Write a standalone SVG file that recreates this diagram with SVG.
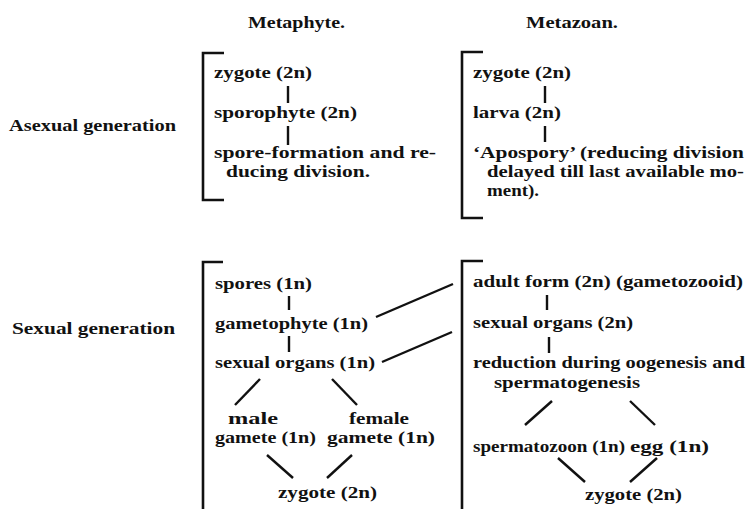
<svg xmlns="http://www.w3.org/2000/svg" width="746" height="509" viewBox="0 0 746 509">
<style>
text{font-family:"Liberation Serif","Times New Roman",serif;font-weight:bold;font-size:17px;fill:#111}
.ln{stroke:#111;stroke-width:2.4;fill:none;stroke-linecap:butt}
.br{stroke:#111;stroke-width:2.6;fill:none}
</style>
<rect width="746" height="509" fill="#fff"/>
<g id="titles">
<text x="248" y="28" textLength="97" lengthAdjust="spacingAndGlyphs">Metaphyte.</text>
<text x="526" y="28" textLength="92" lengthAdjust="spacingAndGlyphs">Metazoan.</text>
</g>
<g id="row-labels">
<text x="9" y="131" textLength="167" lengthAdjust="spacingAndGlyphs">Asexual generation</text>
<text x="12" y="334" textLength="163" lengthAdjust="spacingAndGlyphs">Sexual generation</text>
</g>
<g id="brackets">
<polyline class="br" points="224,53 203,53 203,200 224,200"/>
<polyline class="br" points="483,52 462,52 462,218 483,218"/>
<polyline class="br" points="223,262 203,262 203,509"/>
<polyline class="br" points="483,261 462,261 462,509"/>
</g>
<g id="a-zygote-mp"><text x="214" y="78" textLength="98" lengthAdjust="spacingAndGlyphs">zygote (2n)</text></g>
<g id="a-sporophyte"><text x="214" y="118" textLength="143" lengthAdjust="spacingAndGlyphs">sporophyte (2n)</text></g>
<g id="a-spore-formation">
<text x="214" y="158" textLength="222" lengthAdjust="spacingAndGlyphs">spore-formation and re-</text>
<text x="226" y="177" textLength="144" lengthAdjust="spacingAndGlyphs">ducing division.</text>
</g>
<g id="a-zygote-mz"><text x="473" y="78" textLength="98" lengthAdjust="spacingAndGlyphs">zygote (2n)</text></g>
<g id="a-larva"><text x="473" y="118" textLength="88" lengthAdjust="spacingAndGlyphs">larva (2n)</text></g>
<g id="a-apospory">
<text x="473" y="158" textLength="271" lengthAdjust="spacingAndGlyphs">‘Apospory’ (reducing division</text>
<text x="487" y="177" textLength="257" lengthAdjust="spacingAndGlyphs">delayed till last available mo-</text>
<text x="487" y="196" textLength="52" lengthAdjust="spacingAndGlyphs">ment).</text>
</g>
<g id="s-spores"><text x="215" y="289" textLength="97" lengthAdjust="spacingAndGlyphs">spores (1n)</text></g>
<g id="s-gametophyte"><text x="215" y="329" textLength="153" lengthAdjust="spacingAndGlyphs">gametophyte (1n)</text></g>
<g id="s-sexual-organs-mp"><text x="215" y="368" textLength="160" lengthAdjust="spacingAndGlyphs">sexual organs (1n)</text></g>
<g id="s-male-gamete">
<text x="228" y="424" textLength="50" lengthAdjust="spacingAndGlyphs">male</text>
<text x="215" y="443" textLength="101" lengthAdjust="spacingAndGlyphs">gamete (1n)</text>
</g>
<g id="s-female-gamete">
<text x="349" y="424" textLength="60" lengthAdjust="spacingAndGlyphs">female</text>
<text x="327" y="443" textLength="108" lengthAdjust="spacingAndGlyphs">gamete (1n)</text>
</g>
<g id="s-zygote-mp"><text x="278" y="498" textLength="99" lengthAdjust="spacingAndGlyphs">zygote (2n)</text></g>
<g id="s-adult-form"><text x="473" y="287" textLength="270" lengthAdjust="spacingAndGlyphs">adult form (2n) (gametozooid)</text></g>
<g id="s-sexual-organs-mz"><text x="473" y="328" textLength="160" lengthAdjust="spacingAndGlyphs">sexual organs (2n)</text></g>
<g id="s-reduction">
<text x="473" y="368" textLength="272" lengthAdjust="spacingAndGlyphs">reduction during oogenesis and</text>
<text x="494" y="388" textLength="146" lengthAdjust="spacingAndGlyphs">spermatogenesis</text>
</g>
<g id="s-spermatozoon"><text x="473" y="452" textLength="152" lengthAdjust="spacingAndGlyphs">spermatozoon (1n)</text></g>
<g id="s-egg"><text x="630" y="452" textLength="79" lengthAdjust="spacingAndGlyphs">egg (1n)</text></g>
<g id="s-zygote-mz"><text x="585" y="500" textLength="97" lengthAdjust="spacingAndGlyphs">zygote (2n)</text></g>
<g id="connectors">
<line class="ln" x1="288" y1="86" x2="288" y2="103"/>
<line class="ln" x1="288" y1="126" x2="288" y2="145"/>
<line class="ln" x1="545" y1="86" x2="545" y2="103"/>
<line class="ln" x1="545" y1="126" x2="545" y2="142"/>
<line class="ln" x1="289" y1="296" x2="289" y2="310"/>
<line class="ln" x1="289" y1="336" x2="289" y2="352"/>
<line class="ln" x1="547" y1="295" x2="547" y2="310"/>
<line class="ln" x1="549" y1="337" x2="549" y2="353"/>
<line class="ln" x1="260" y1="379" x2="235" y2="405"/>
<line class="ln" x1="332" y1="379" x2="357" y2="405"/>
<line class="ln" x1="267" y1="455" x2="293" y2="478"/>
<line class="ln" x1="352" y1="455" x2="327" y2="478"/>
<line class="ln" x1="552" y1="401" x2="525" y2="425"/>
<line class="ln" x1="630" y1="401" x2="655" y2="425"/>
<line class="ln" x1="558" y1="458" x2="585" y2="482"/>
<line class="ln" x1="657" y1="458" x2="630" y2="482"/>
<line class="ln" x1="376" y1="317" x2="453" y2="284"/>
<line class="ln" x1="382" y1="362" x2="452" y2="332" stroke-width="1.8"/>
</g>
</svg>
